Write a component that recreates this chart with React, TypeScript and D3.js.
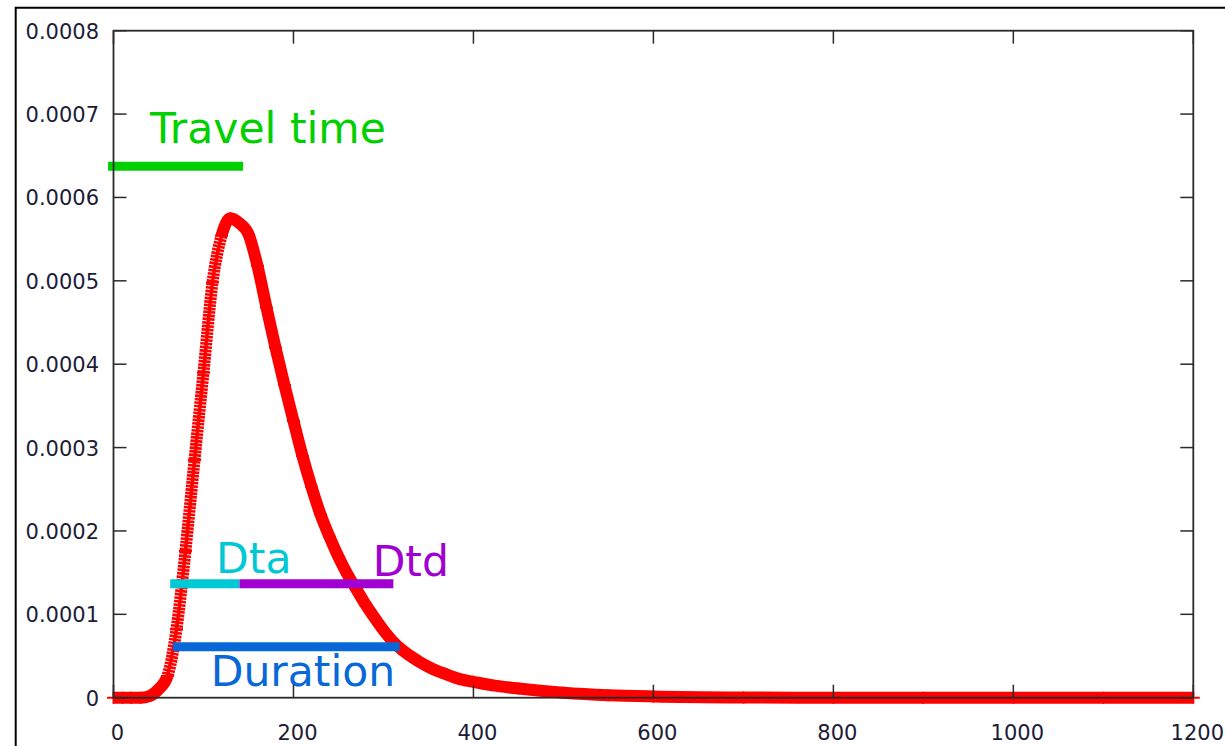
import React, { useEffect, useRef } from 'react';
import * as d3 from 'd3';

// curve (x in time units, y density)
const xValues = [0, 10, 20, 30, 40, 50, 60, 70, 80, 90, 100, 110, 120, 130, 140, 150, 160, 170, 180, 190, 200,
  210, 220, 230, 240, 250, 260, 270, 280, 290, 300, 310, 320, 330, 340, 350, 360, 370, 380, 390, 400,
  420, 450, 500, 550, 600, 700, 800, 900, 1000, 1100, 1200];
const density = [0, 0, 0, 0, 0.000002, 0.00001, 0.000026, 0.000082, 0.000176, 0.000285, 0.00039, 0.000498, 0.000554, 0.000575, 0.000569, 0.000556, 0.000518, 0.000468, 0.00042, 0.000375, 0.000332,
  0.00029, 0.000253, 0.00022, 0.000193, 0.000169, 0.000148, 0.00013, 0.000112, 0.000096, 0.000081, 0.000068, 0.000058, 0.00005, 0.000043, 0.000037, 0.000032, 0.000028, 0.000024, 0.000021, 0.000019,
  0.000015, 0.000011, 0.000006, 0.000003, 0.0000015, 0.0000003, 0, 0, 0, 0, 0];

const xTicks = [0, 200, 400, 600, 800, 1000, 1200];
const yTicks = [0, 0.0001, 0.0002, 0.0003, 0.0004, 0.0005, 0.0006, 0.0007, 0.0008];

// annotation bars (data units)
const barNames = ['Travel time', 'Dta', 'Dtd', 'Duration'];
const barFrom = [-6, 63, 140, 66];
const barTo = [144, 140, 311, 318];
const barLevel = [0.0006375, 0.0001367, 0.0001367, 0.0000612];
const barColors = ['#00d000', '#00c8d4', '#a000d0', '#0868d8'];
// label anchor (data units)
const labelX = [40.6, 114, 288, 108];
const labelY = [0.0006657, 0.000150, 0.000146, 0.0000144];

const W = 1225;
const H = 746;

const App = () => {
  const svgRef = useRef<SVGSVGElement>(null);

  useEffect(() => {
    const svg = d3.select(svgRef.current);
    svg.selectAll('*').remove();

    const margin = { top: 30.7, right: W - 1193.3, bottom: H - 697.7, left: 113.5 };
    const x = d3.scaleLinear().domain([0, 1200]).range([margin.left, W - margin.right]);
    const y = d3.scaleLinear().domain([0, 0.0008]).range([H - margin.bottom, margin.top]);

    svg.append('rect').attr('width', W).attr('height', H).attr('fill', 'white');

    // outer frame
    svg.append('path')
      .attr('d', `M15.7,${H}V7.7H${W}`)
      .attr('fill', 'none')
      .attr('stroke', '#000')
      .attr('stroke-width', 2);

    const pts = xValues.map((d, i) => [d, density[i]] as [number, number]);
    const line = d3.line<[number, number]>()
      .x(d => x(d[0]))
      .y(d => y(d[1]))
      .curve(d3.curveMonotoneX);

    const red = '#ff0000';
    svg.append('path')
      .attr('d', line(pts))
      .attr('fill', 'none')
      .attr('stroke', red)
      .attr('stroke-width', 12)
      .attr('stroke-linejoin', 'round');

    // hatched look on the steep rise
    const peak = d3.max(density) as number;
    const i0 = density.findIndex(v => v >= peak * 0.04);
    const i1 = density.findIndex(v => v >= peak * 0.9);
    const rise = pts.slice(i0, i1 + 1);
    svg.append('path')
      .attr('d', line(rise))
      .attr('fill', 'none')
      .attr('stroke', 'white')
      .attr('stroke-width', 15)
      .attr('stroke-dasharray', '0.9 2.6');
    svg.append('path')
      .attr('d', line(rise))
      .attr('fill', 'none')
      .attr('stroke', red)
      .attr('stroke-width', 3.5);

    // + markers
    svg.append('g')
      .selectAll('path')
      .data(pts)
      .enter()
      .append('path')
      .attr('d', d => `M${x(d[0]) - 6.5},${y(d[1])}h13M${x(d[0])},${y(d[1]) - 6}v12`)
      .attr('stroke', red)
      .attr('stroke-width', 2);

    // annotation bars
    const bars = svg.append('g');
    barNames.forEach((name, i) => {
      bars.append('line')
        .attr('x1', x(barFrom[i]))
        .attr('x2', x(barTo[i]))
        .attr('y1', y(barLevel[i]))
        .attr('y2', y(barLevel[i]))
        .attr('stroke', barColors[i])
        .attr('stroke-width', 9);
    });
    barNames.forEach((name, i) => {
      bars.append('text')
        .attr('x', x(labelX[i]))
        .attr('y', y(labelY[i]))
        .attr('fill', barColors[i])
        .attr('font-family', 'DejaVu Sans')
        .attr('font-size', 42.5)
        .text(name);
    });

    // frame and ticks
    const axisColor = '#2a2a2a';
    svg.append('rect')
      .attr('x', x(0))
      .attr('y', y(0.0008))
      .attr('width', x(1200) - x(0))
      .attr('height', y(0) - y(0.0008))
      .attr('fill', 'none')
      .attr('stroke', axisColor)
      .attr('stroke-width', 1.8);

    const tickLen = 13;
    const tg = svg.append('g').attr('stroke', axisColor).attr('stroke-width', 1.5);
    xTicks.forEach(t => {
      tg.append('line').attr('x1', x(t)).attr('x2', x(t)).attr('y1', y(0)).attr('y2', y(0) - tickLen);
      tg.append('line').attr('x1', x(t)).attr('x2', x(t)).attr('y1', y(0.0008)).attr('y2', y(0.0008) + tickLen);
    });
    yTicks.forEach(t => {
      tg.append('line').attr('x1', x(0)).attr('x2', x(0) + tickLen).attr('y1', y(t)).attr('y2', y(t));
      tg.append('line').attr('x1', x(1200)).attr('x2', x(1200) - tickLen).attr('y1', y(t)).attr('y2', y(t));
    });

    const labelColor = '#1c1c38';
    svg.append('g')
      .selectAll('text')
      .data(xTicks)
      .enter()
      .append('text')
      .attr('x', d => x(d) + 4)
      .attr('y', 740)
      .attr('text-anchor', 'middle')
      .attr('font-family', 'DejaVu Sans')
      .attr('font-size', 21)
      .attr('fill', labelColor)
      .text(d => d);

    svg.append('g')
      .selectAll('text')
      .data(yTicks)
      .enter()
      .append('text')
      .attr('x', 99)
      .attr('y', d => y(d) + 8)
      .attr('text-anchor', 'end')
      .attr('font-family', 'DejaVu Sans')
      .attr('font-size', 21)
      .attr('fill', labelColor)
      .text(d => (d === 0 ? '0' : d.toFixed(4)));
  }, []);

  return (
    <div style={{ position: 'absolute', left: 0, top: 0, width: W, height: H, overflow: 'hidden' }}>
      <svg ref={svgRef} width={W} height={H} style={{ display: 'block' }}></svg>
    </div>
  );
};

export default App;
